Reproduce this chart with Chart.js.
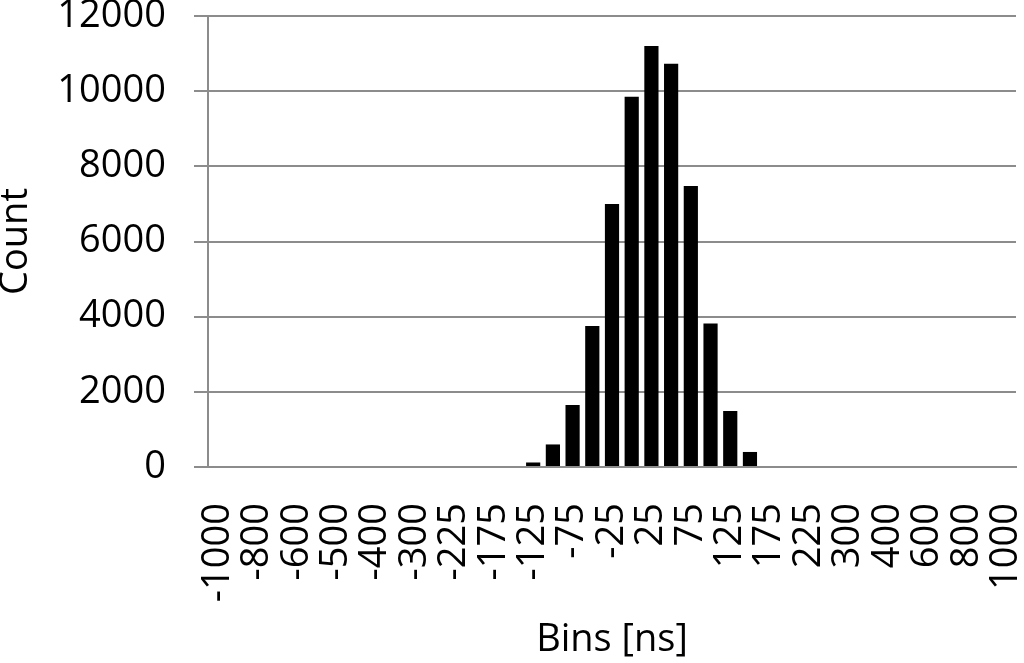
<!DOCTYPE html>
<html>
<head>
<meta charset="utf-8">
<script src="https://cdn.jsdelivr.net/npm/chart.js@4/dist/chart.umd.min.js"></script>
<style>
  html, body { margin: 0; padding: 0; background: #fff; }
  #wrap { width: 1024px; height: 663px; }
</style>
</head>
<body>
<div id="wrap"><canvas id="c" width="1024" height="663"></canvas></div>
<script>
const bins = [-1000, -900, -800, -700, -600, -550, -500, -450, -400, -350, -300, -250, -225, -200, -175, -150, -125, -100, -75, -50, -25, 0, 25, 50, 75, 100, 125, 150, 175, 200, 225, 250, 300, 350, 400, 500, 600, 700, 800, 900, 1000];
const counts = [0, 0, 0, 0, 0, 0, 0, 0, 0, 0, 0, 0, 0, 0, 0, 0, 120, 600, 1650, 3750, 7000, 9850, 11200, 10730, 7480, 3820, 1490, 400, 0, 0, 0, 0, 0, 0, 0, 0, 0, 0, 0, 0, 0];
const yTicks = [0, 2000, 4000, 6000, 8000, 10000, 12000];
const xTitle = 'Bins [ns]';
const yTitle = 'Count';

const FONT = '"Open Sans", "Liberation Sans", sans-serif';
const GRID = '#8c8c8c';

new Chart(document.getElementById('c'), {
  type: 'bar',
  data: {
    labels: bins.map(String),
    datasets: [{
      data: counts,
      backgroundColor: '#000000',
      borderWidth: 0,
      categoryPercentage: 1.0,
      barPercentage: 0.72
    }]
  },
  options: {
    responsive: false,
    animation: false,
    layout: { padding: { top: 16, right: 8, left: 0, bottom: 0 } },
    plugins: { legend: { display: false }, tooltip: { enabled: false } },
    scales: {
      x: {
        grid: { display: false },
        border: { display: true, color: GRID, width: 2 },
        ticks: {
          autoSkip: false,
          maxRotation: 90,
          minRotation: 90,
          padding: 28,
          color: '#000',
          font: { family: FONT, size: 38, lineHeight: 1 },
          callback: function (v, i) { return i % 2 === 0 ? this.getLabelForValue(v) : ''; }
        },
        title: {
          display: true,
          text: xTitle,
          color: '#000',
          font: { family: FONT, size: 38, lineHeight: 1.2 },
          padding: { top: 0, bottom: 0 }
        },
        afterFit: function (s) { s.height = 196; s.paddingLeft = 0; s.paddingRight = 0; }
      },
      y: {
        min: 0,
        max: 12000,
        afterBuildTicks: function (s) { s.ticks = yTicks.map(v => ({ value: v })); },
        grid: { color: GRID, lineWidth: 2, tickLength: 14, drawTicks: true },
        border: { display: true, color: GRID, width: 2 },
        ticks: {
          padding: 28,
          color: '#000',
          font: { family: FONT, size: 38, lineHeight: 1 },
          callback: function (v) { return String(v); }
        },
        title: {
          display: true,
          text: yTitle,
          color: '#000',
          font: { family: FONT, size: 38, lineHeight: 0.85 },
          padding: { top: 0, bottom: 0 }
        },
        afterFit: function (s) { s.width = 208; s.paddingTop = 0; s.paddingBottom = 0; }
      }
    }
  }
});
</script>
</body>
</html>
